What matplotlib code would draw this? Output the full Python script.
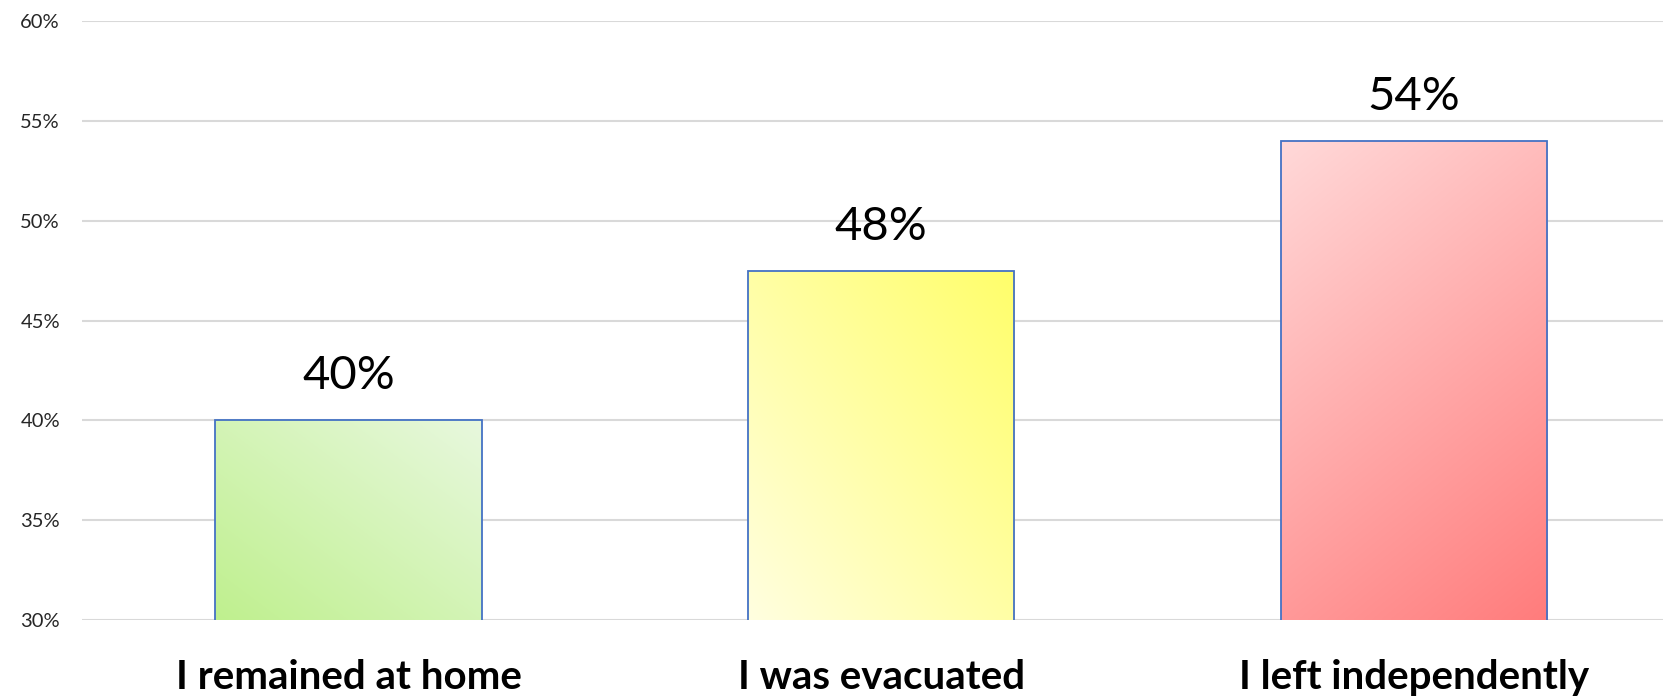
import numpy as np
import matplotlib
matplotlib.use("Agg")
import matplotlib.pyplot as plt
from matplotlib.colors import to_rgb

# Datos del gráfico
categorias = ["I remained at home", "I was evacuated", "I left independently"]
valores = [0.40, 0.475, 0.54]
etiquetas = ["40%", "48%", "54%"]
ticks_y = [0.30, 0.35, 0.40, 0.45, 0.50, 0.55, 0.60]

# colores del degradado: (color claro, color fuerte, esquina del color fuerte)
degradados = [
    ("#e8f8de", "#bff08e", "bl"),
    ("#fffee0", "#ffff6a", "tr"),
    ("#ffd9d9", "#ff7c7c", "br"),
]

plt.rcParams['font.family'] = ['Lato', 'DejaVu Sans']

fig = plt.figure(figsize=(16.63, 6.97), dpi=100)
ax = fig.add_axes([0.0494, 0.1105, 0.961, 0.859])

x = np.arange(len(categorias))
ancho = 0.5
barras = ax.bar(x, valores, width=ancho, bottom=0, color='none',
                edgecolor='#4472c4', linewidth=1.3, zorder=3)


def degradado(c1, c2, esquina, n=200):
    # arreglo RGB que va de c1 a c2 en diagonal hacia la esquina indicada
    u, v = np.meshgrid(np.linspace(0, 1, n), np.linspace(0, 1, n))  # v=0 arriba
    if esquina == "tr":
        t = (u + (1 - v)) / 2
    elif esquina == "bl":
        t = ((1 - u) + v) / 2
    else:  # br
        t = (u * 0.45 + v * 1.0) / 1.45
    a = np.array(to_rgb(c1))
    b = np.array(to_rgb(c2))
    return a + (b - a) * t[..., None]


for barra, (c1, c2, esquina) in zip(barras, degradados):
    x0 = barra.get_x()
    x1 = x0 + barra.get_width()
    y1 = barra.get_height()
    img = ax.imshow(degradado(c1, c2, esquina), extent=(x0, x1, 0.30, y1),
                    aspect='auto', zorder=2, interpolation='bilinear')
    img.set_clip_path(barra)

for xi, v, et in zip(x, valores, etiquetas):
    ax.text(xi, v + 0.0115, et, ha='center', va='bottom', fontsize=34, color='black')

ax.set_xlim(-0.5, 2.5)
ax.set_ylim(0.30, 0.60)
ax.set_yticks(ticks_y)
ax.set_yticklabels(["%d%%" % round(t * 100) for t in ticks_y])
ax.set_xticks(x)
ax.set_xticklabels(categorias, fontsize=29, fontweight='bold')
ax.tick_params(axis='y', length=0, labelsize=14.5, pad=16, colors='#262626')
ax.tick_params(axis='x', length=0, pad=28)
ax.yaxis.grid(True, color='#d9d9d9', linewidth=1.5, zorder=0)
ax.set_axisbelow(True)
for s in ax.spines.values():
    s.set_visible(False)

fig.savefig("out.png", dpi=100)
